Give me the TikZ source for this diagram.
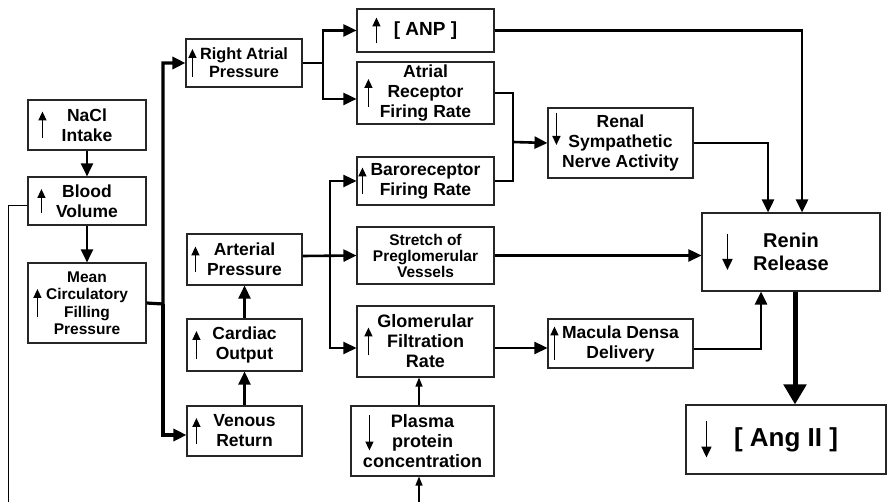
\documentclass[tikz,border=0pt]{standalone}
\usepackage{fontspec}
\setmainfont{Liberation Sans}
\usetikzlibrary{arrows.meta}

\tikzset{
  box/.style={draw=black!85, line width=1.1pt, align=center, inner sep=0pt,
    font=\bfseries\fontsize{17.5}{20}\selectfont},
  smallbox/.style={box, font=\bfseries\fontsize{15.5}{17.5}\selectfont},
  link/.style={line width=2.6pt, -{Triangle[length=13pt,width=12pt]}},
  thinlink/.style={line width=1.3pt, -{Triangle[length=9pt,width=7pt]}},
  mark up/.style={line width=1.5pt, -{Triangle[length=9pt,width=8pt]}},
  mark big/.style={line width=1.8pt, -{Triangle[length=11pt,width=10pt]}},
}

\begin{document}
\begin{tikzpicture}[x=1pt, y=-1pt]

  % Fix the page to the size of the figure
  \useasboundingbox (0,0) rectangle (889,502);

  % Left column
  \node[box, minimum width=118pt, minimum height=50pt] (nacl) at (87,125) {NaCl\\Intake};
  \node[box, minimum width=118pt, minimum height=48pt] (blood) at (87,201) {Blood\\Volume};
  \node[smallbox, minimum width=118pt, minimum height=80pt] (mean) at (87,303)
    {Mean\\Circulatory\\Filling\\Pressure};

  % Second column
  \node[smallbox, font=\bfseries\fontsize{16.3}{17.7}\selectfont,
    minimum width=116pt, minimum height=48pt] (rap) at (244,63) {Right Atrial\\Pressure};
  \node[box, minimum width=115pt, minimum height=51pt] (art) at (244.5,259.5) {Arterial\\Pressure};
  \node[box, minimum width=115pt, minimum height=52pt] (card) at (244.5,345) {Cardiac\\Output};
  \node[box, minimum width=115pt, minimum height=50pt] (ven) at (244.5,431) {Venous\\Return};

  % Third column
  \node[box, font=\bfseries\fontsize{19}{21}\selectfont,
    minimum width=137pt, minimum height=43pt] (anp) at (425.5,30.5) {[ ANP ]};
  \node[box, minimum width=137pt, minimum height=62pt] (arec) at (425.5,93)
    {Atrial\\Receptor\\Firing Rate};
  \node[box, minimum width=137pt, minimum height=48pt] (baro) at (425.5,181)
    {Baroreceptor\\Firing Rate};
  \node[smallbox, font=\bfseries\fontsize{15.5}{16}\selectfont,
    minimum width=137pt, minimum height=57pt] (stretch) at (425.5,255.5)
    {Stretch of\\Preglomerular\\Vessels};
  \node[box, font=\bfseries\fontsize{18}{20}\selectfont,
    minimum width=137pt, minimum height=71pt] (gfr) at (425.5,341.5)
    {Glomerular\\Filtration\\Rate};
  \node[box, font=\bfseries\fontsize{18}{20}\selectfont,
    minimum width=143pt, minimum height=70pt] (plasma) at (422.5,441)
    {Plasma\\protein\\concentration};

  % Fourth column
  \node[box, minimum width=145pt, minimum height=70pt] (renal) at (620.5,143)
    {Renal\\Sympathetic\\Nerve Activity};
  \node[box, minimum width=145pt, minimum height=49pt] (macula) at (620.5,343.5)
    {Macula Densa\\Delivery};

  % Output boxes
  \node[box, font=\bfseries\fontsize{20}{23}\selectfont,
    minimum width=178pt, minimum height=78pt] (renin) at (791,252) {Renin\\Release};
  \node[box, font=\bfseries\fontsize{26}{30}\selectfont,
    minimum width=200pt, minimum height=69pt] (ang) at (786,439.5) {[ Ang II ]};

  % Small arrows inside the boxes: node/offset/length
  \foreach \n/\dx/\len in {nacl/15/27, blood/14/24, mean/10/28, rap/7/28, art/9/26,
      card/10/28, ven/10/26, anp/20/26, arec/12/28, baro/6/27, gfr/12/28, macula/7/34}
    \draw[mark up] ([xshift=\dx pt]\n.west) ++(0,\len/2) -- ++(0,-\len);
  \foreach \n/\dx/\len/\dy in {renal/9/32/-14, plasma/19/35/-8}
    \draw[mark up] ([xshift=\dx pt]\n.west) ++(0,\dy-\len/2) -- ++(0,\len);
  \foreach \n/\dx/\len in {renin/26/36, ang/21/36}
    \draw[mark big] ([xshift=\dx pt]\n.west) ++(0,-\len/2) -- ++(0,\len);

  % Junction points
  \coordinate (trunk) at (163,304);
  \coordinate (rapsplit) at (323,63);
  \coordinate (artsplit) at (330,256);
  \coordinate (nervejoin) at (513,142);
  \coordinate (fbtop) at (8,206);
  \coordinate (fbend) at (8,502);
  \coordinate (plasmain) at (419,502);

  % Left column links
  \draw[link] (nacl) -- (blood);
  \draw[link] (blood) -- (mean);
  \draw[line width=1pt] ([yshift=-5pt]blood.west) -- (fbtop) -- (fbend);

  % Trunk to right atrial pressure and venous return
  \draw[link, line width=3.2pt] (mean.east) -- (trunk) |- (rap.west);
  \draw[link, line width=3.2pt] (trunk) |- ([yshift=-4pt]ven.west);
  \draw[link] (ven) -- (card);
  \draw[link] (card) -- (art);

  % Right atrial pressure splits
  \draw[line width=2.6pt] (rap.east) -- (rapsplit);
  \draw[link] (rapsplit) |- (anp.west);
  \draw[link] (rapsplit) |- ([yshift=-6pt]arec.west);

  % Arterial pressure splits
  \draw[link] (art.east |- artsplit) -- (stretch.west);
  \draw[link] (artsplit) |- (baro.west);
  \draw[link] (artsplit) |- ([yshift=-6.5pt]gfr.west);

  % Receptors to renal nerves
  \draw[line width=2.6pt] (arec.east) -| (nervejoin);
  \draw[line width=2.6pt] (baro.east) -| (nervejoin);
  \draw[link] (nervejoin) -- (renal.west);

  % Into renin release
  \draw[link] (anp.east) -| ([xshift=11pt]renin.north);
  \draw[link] (renal.east) -| ([xshift=-23pt]renin.north);
  \draw[link] (stretch.east) -- (stretch.east -| renin.west);
  \draw[link] ([yshift=-6.5pt]gfr.east) -- ([yshift=-6.5pt]gfr.east -| macula.west);
  \draw[link] ([yshift=-5.5pt]macula.east) -| ([xshift=-30pt]renin.south);

  % Renin release to angiotensin II
  \draw[line width=5pt, -{Triangle[length=20pt,width=22pt]}]
    ([xshift=4pt]renin.south) -- ([xshift=4pt]renin.south |- ang.north);

  % Plasma protein links
  \draw[thinlink] ([xshift=-3.5pt]plasma.north) -- ([xshift=-3.5pt]plasma.north |- gfr.south);
  \draw[thinlink] (plasmain) -- (plasmain |- plasma.south);

\end{tikzpicture}
\end{document}
